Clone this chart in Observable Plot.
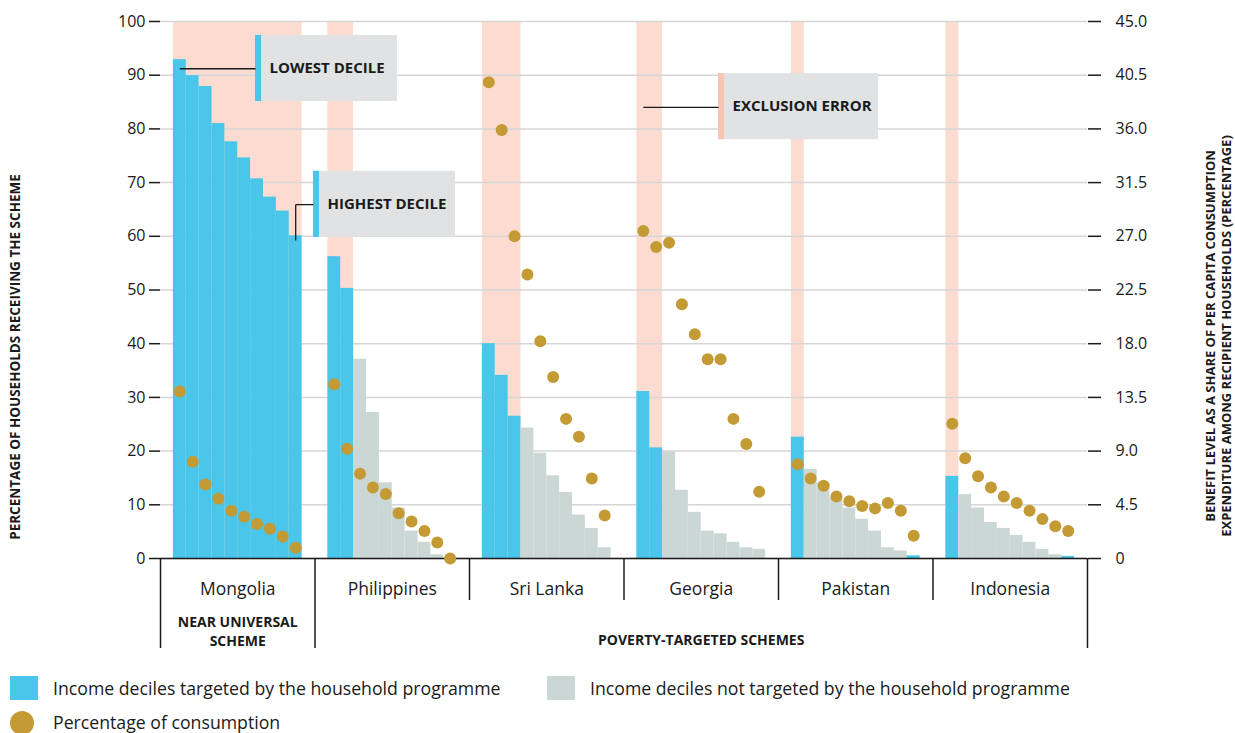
<!DOCTYPE html>
<html>
<head>
<meta charset="utf-8">
<script src="https://cdn.jsdelivr.net/npm/d3@7"></script>
<script src="https://cdn.jsdelivr.net/npm/@observablehq/plot@0.6"></script>
<style>
  html, body { margin: 0; padding: 0; background: #fff; }
  body { font-family: "Open Sans", sans-serif; color: #1a1a1a; }
  #wrap { position: relative; width: 1235px; height: 733px; overflow: hidden; }
  #chart { position: absolute; left: 0; top: 0; }
  .leg { position: absolute; font-size: 17.7px; line-height: 24px; white-space: nowrap; }
  .sw { position: absolute; }
</style>
</head>
<body>
<div id="wrap">
  <div id="chart"></div>
  <div class="sw" style="left:10px;top:676px;width:28px;height:24px;background:#49c6e9"></div>
  <div class="leg" style="left:53px;top:676px">Income deciles targeted by the household programme</div>
  <div class="sw" style="left:547px;top:676px;width:28px;height:24px;background:#cbd7d5"></div>
  <div class="leg" style="left:590px;top:676px">Income deciles not targeted by the household programme</div>
  <div class="sw" style="left:10px;top:711px;width:24px;height:24px;border-radius:50%;background:#c49a34"></div>
  <div class="leg" style="left:53px;top:712px;line-height:20px">Percentage of consumption</div>
</div>
<script>
// ---- data ----
const countries = ["Mongolia", "Philippines", "Sri Lanka", "Georgia", "Pakistan", "Indonesia"];
const deciles = [1, 2, 3, 4, 5, 6, 7, 8, 9, 10];

// percentage of households receiving the scheme, by income decile
const coverageMongolia    = [92.9, 89.9, 87.9, 81.0, 77.6, 74.6, 70.7, 67.3, 64.7, 60.1];
const coveragePhilippines = [56.2, 50.3, 37.1, 27.2, 14.1, 9.4, 5.1, 3.0, 0.7, 0.2];
const coverageSriLanka    = [40.0, 34.1, 26.5, 24.3, 19.6, 15.4, 12.3, 8.1, 5.6, 2.0];
const coverageGeorgia     = [31.1, 20.6, 19.9, 12.7, 8.6, 5.1, 4.6, 3.0, 2.0, 1.7];
const coveragePakistan    = [22.6, 16.6, 14.1, 11.3, 9.4, 7.3, 5.1, 2.0, 1.4, 0.5];
const coverageIndonesia   = [15.3, 11.9, 9.4, 6.7, 5.6, 4.3, 3.0, 1.7, 0.7, 0.4];

// is the decile targeted by the household programme
const targetedMongolia    = [true, true, true, true, true, true, true, true, true, true];
const targetedPhilippines = [true, true, false, false, false, false, false, false, false, false];
const targetedSriLanka    = [true, true, true, false, false, false, false, false, false, false];
const targetedGeorgia     = [true, true, false, false, false, false, false, false, false, false];
const targetedPakistan    = [true, false, false, false, false, false, false, false, false, true];
const targetedIndonesia   = [true, false, false, false, false, false, false, false, false, true];

// benefit level as a share of per capita consumption (right axis, %)
const consumptionMongolia    = [14.0, 8.1, 6.2, 5.0, 4.0, 3.5, 2.9, 2.5, 1.85, 0.9];
const consumptionPhilippines = [14.6, 9.2, 7.1, 5.95, 5.4, 3.8, 3.1, 2.3, 1.35, 0.0];
const consumptionSriLanka    = [39.9, 35.9, 27.0, 23.8, 18.2, 15.2, 11.7, 10.2, 6.7, 3.6];
const consumptionGeorgia     = [27.45, 26.1, 26.45, 21.3, 18.8, 16.7, 16.7, 11.7, 9.6, 5.6];
const consumptionPakistan    = [7.9, 6.7, 6.1, 5.2, 4.8, 4.4, 4.2, 4.65, 4.0, 1.9];
const consumptionIndonesia   = [11.3, 8.4, 6.9, 5.95, 5.2, 4.65, 4.0, 3.3, 2.7, 2.3];

// number of lowest deciles shaded as exclusion error
const exclusionDeciles = [10, 2, 3, 2, 1, 1];

// axis ticks
const leftTicks = [0, 10, 20, 30, 40, 50, 60, 70, 80, 90, 100];
const rightTickLabels = ["0", "4.5", "9.0", "13.5", "18.0", "22.5", "27.0", "31.5", "36.0", "40.5", "45.0"];
const rightMax = 45;

// annotation callouts
const calloutLabels = ["LOWEST DECILE", "HIGHEST DECILE", "EXCLUSION ERROR"];

// ---- build table ----
const coverage = [coverageMongolia, coveragePhilippines, coverageSriLanka, coverageGeorgia, coveragePakistan, coverageIndonesia];
const targeted = [targetedMongolia, targetedPhilippines, targetedSriLanka, targetedGeorgia, targetedPakistan, targetedIndonesia];
const consumption = [consumptionMongolia, consumptionPhilippines, consumptionSriLanka, consumptionGeorgia, consumptionPakistan, consumptionIndonesia];

const SLOTS = 12; // 10 deciles + one padding slot each side
const rows = [];
countries.forEach((c, g) => {
  deciles.forEach((d, i) => {
    rows.push({
      country: c, g, decile: d,
      x1: g * SLOTS + d, x2: g * SLOTS + d + 1, xc: g * SLOTS + d + 0.5,
      coverage: coverage[g][i], targeted: targeted[g][i], consumption: consumption[g][i]
    });
  });
});
const exclusion = countries.map((c, g) => ({x1: g * SLOTS + 1, x2: g * SLOTS + 1 + exclusionDeciles[g]}));
const groupCenters = countries.map((c, g) => g * SLOTS + SLOTS / 2);
const innerBounds = [2, 3, 4, 5].map(g => g * SLOTS);
const outerBounds = [0, 1, 6].map(g => g * SLOTS);

const blue = "#49c6e9", grey = "#cbd7d5", pink = "#fcdcd1", gold = "#c49a34", boxGrey = "#e1e2e4", pinkAccent = "#f8c5b5";

// callouts in data units (x in decile slots, y in % of households)
const callouts = [
  {label: calloutLabels[0], x1: 7.38, x2: 18.41, y1: 85.1, y2: 97.4, accent: blue},
  {label: calloutLabels[1], x1: 11.88, x2: 22.91, y1: 59.8, y2: 72.1, accent: blue},
  {label: calloutLabels[2], x1: 43.34, x2: 55.77, y1: 78.0, y2: 90.3, accent: pinkAccent}
];
const leaders = [
  {x1: 1.5, y1: 91.2, x2: 7.38, y2: 91.2},
  {x1: 10.5, y1: 59.2, x2: 10.5, y2: 65.9},
  {x1: 10.5, y1: 65.9, x2: 11.88, y2: 65.9},
  {x1: 37.5, y1: 84.0, x2: 43.34, y2: 84.0}
];
const schemeNear = [{x: groupCenters[0], label: "NEAR UNIVERSAL\nSCHEME"}];
const schemePoverty = [{x: (SLOTS + 6 * SLOTS) / 2, label: "POVERTY-TARGETED SCHEMES"}];

const plot = Plot.plot({
  width: 1235,
  height: 660,
  marginLeft: 160,
  marginRight: 148,
  marginTop: 21,
  marginBottom: 102,
  x: {domain: [0, 6 * SLOTS]},
  y: {domain: [0, 100]},
  color: {type: "identity"},
  style: {fontFamily: "Open Sans, sans-serif", fontSize: "16px", color: "#1a1a1a", background: "white", overflow: "visible"},
  marks: [
    Plot.rect(exclusion, {x1: "x1", x2: "x2", y1: 0, y2: 100, fill: pink}),
    Plot.gridY(leftTicks, {stroke: "#d6d6d6", strokeOpacity: 1, strokeWidth: 1.5}),
    Plot.rect(rows, {x1: "x1", x2: "x2", y1: 0, y2: "coverage", fill: d => d.targeted ? blue : grey}),
    Plot.ruleY([0], {stroke: "#1a1a1a", strokeWidth: 1.5}),
    Plot.axisY(leftTicks, {anchor: "left", tickSize: 11, tickPadding: 4, label: null, strokeWidth: 1.5, fontSize: 16}),
    Plot.axisY(leftTicks, {anchor: "right", tickSize: 13, tickPadding: 15, label: null, strokeWidth: 1.5, fontSize: 16,
      tickFormat: d => rightTickLabels[leftTicks.indexOf(d)]}),
    Plot.axisX(innerBounds, {anchor: "bottom", tickSize: 42, tickFormat: () => "", label: null, strokeWidth: 1.5}),
    Plot.axisX(outerBounds, {anchor: "bottom", tickSize: 90, tickFormat: () => "", label: null, strokeWidth: 1.5}),
    Plot.axisX(groupCenters, {anchor: "bottom", tickSize: 0, tickPadding: 24, label: null, fontSize: 17.5,
      tickFormat: d => countries[groupCenters.indexOf(d)]}),
    Plot.text(schemeNear, {x: "x", frameAnchor: "bottom", text: "label", lineAnchor: "top", dy: 56,
      fontWeight: 700, fontSize: 14, lineHeight: 1.3, fill: "#1a1a1a"}),
    Plot.text(schemePoverty, {x: "x", frameAnchor: "bottom", text: "label", lineAnchor: "top", dy: 77,
      fontWeight: 700, fontSize: 14, fill: "#1a1a1a"}),
    Plot.rect(callouts, {x1: "x1", x2: "x2", y1: "y1", y2: "y2", fill: boxGrey}),
    Plot.rect(callouts, {x1: "x1", x2: d => d.x1 + 0.47, y1: "y1", y2: "y2", fill: "accent"}),
    Plot.text(callouts, {x: "x1", y: d => (d.y1 + d.y2) / 2, text: "label", textAnchor: "start", dx: 14,
      fontWeight: 700, fontSize: 15, fill: "#1a1a1a"}),
    Plot.link(leaders, {x1: "x1", y1: "y1", x2: "x2", y2: "y2", stroke: "#1a1a1a", strokeWidth: 1.3}),
    Plot.dot(rows, {x: "xc", y: d => d.consumption / rightMax * 100, r: 6, fill: gold})
  ]
});

document.getElementById("chart").appendChild(plot);
const svg = d3.select(plot);

// axis titles
svg.append("text")
  .attr("transform", "translate(20,357) rotate(-90)")
  .attr("text-anchor", "middle")
  .attr("font-weight", 700).attr("font-size", 13.5)
  .attr("fill", "#1a1a1a")
  .text("PERCENTAGE OF HOUSEHOLDS RECEIVING THE SCHEME");
svg.append("text")
  .attr("transform", "translate(1215,336) rotate(-90)")
  .attr("text-anchor", "middle")
  .attr("font-weight", 700).attr("font-size", 13)
  .attr("fill", "#1a1a1a")
  .text("BENEFIT LEVEL AS A SHARE OF PER CAPITA CONSUMPTION");
svg.append("text")
  .attr("transform", "translate(1231,336) rotate(-90)")
  .attr("text-anchor", "middle")
  .attr("font-weight", 700).attr("font-size", 13)
  .attr("fill", "#1a1a1a")
  .text("EXPENDITURE AMONG RECIPIENT HOUSEHOLDS (PERCENTAGE)");
</script>
</body>
</html>
